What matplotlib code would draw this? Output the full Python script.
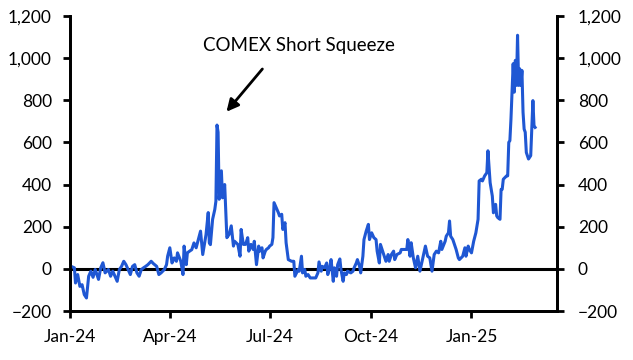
import numpy as np
import pandas as pd
import matplotlib
matplotlib.use('Agg')
import matplotlib.pyplot as plt
import matplotlib.dates as mdates
from matplotlib.ticker import StrMethodFormatter

plt.rcParams['font.family'] = ['Lato', 'DejaVu Sans']

# days after 1 Jan 2024
days = [1, 4, 5, 7, 9, 11, 13, 15, 17, 19, 21, 23, 26, 28, 30, 32, 35, 37, 39, 41,
        43, 45, 47, 49, 51, 53, 55, 57, 59, 61, 63, 65, 67, 69, 71, 74, 76, 79, 81, 83,
        86, 88, 89, 91, 93, 95, 97, 98, 101, 103, 104, 106, 107, 109, 111, 113, 115, 117, 119, 121,
        123, 124, 126, 127, 128, 130, 132, 133, 134, 135, 136, 138, 139, 141, 143, 145, 147, 149,
        150, 153, 155, 156, 158, 160, 162, 163, 165, 167, 168, 170, 172, 173, 175, 176, 178, 179,
        181, 182, 184, 185, 186, 188, 190, 191, 193, 194, 196, 197, 199, 202, 204, 205, 208, 209,
        211, 212, 214, 215, 217, 219, 221, 224, 226, 227, 229, 230, 232, 234, 235, 237, 238, 240,
        241, 243, 244, 246, 247, 249, 250, 252, 253, 256, 258, 259, 261, 262, 264, 265, 267, 268,
        270, 272, 273, 275, 277, 279, 280, 282, 283, 285, 286, 288, 290, 291, 293, 295, 296, 298,
        301, 302, 304, 307, 308, 310, 311, 313, 315, 317, 319, 322, 324, 326, 328, 330, 332, 334,
        336, 338, 339, 342, 343, 345, 346, 347, 349, 352, 354, 355, 358, 360, 361, 363, 364, 366,
        368, 370, 372, 373, 375, 376, 378, 380, 381, 382, 383, 385, 386, 388, 389, 390, 392, 393,
        394, 395, 398, 399, 400, 401, 402, 403, 404, 405, 406, 407, 408, 409, 410, 411, 412, 413,
        414, 415, 416, 418, 420, 422, 423, 424]

values = [12, 5, -67, -27, -83, -75, -122, -138, -35, -11, -40, -3, -50, 5, 29, -19, -3, -35, -11, -35,
          -59, -3, 12, 36, 20, -3, -27, 12, 20, -19, -35, -3, 5, 12, 20, 36, 25, 12, -27, -19,
          -3, 20, 60, 100, 28, 52, 36, 76, 36, -27, 108, 20, 76, 84, 91, 123, 100, 139, 179, 68,
          131, 163, 267, 123, 115, 235, 282, 321, 682, 648, 330, 465, 337, 400, 148, 163, 204, 108,
          131, 116, 60, 187, 116, 116, 148, 84, 116, 92, 131, 20, 108, 84, 100, 52, 84, 92,
          100, 108, 116, 148, 314, 290, 266, 251, 259, 187, 219, 124, 44, 36, 36, -35, -3, -11,
          60, -19, -3, -35, -27, -43, -43, -43, -19, 33, -11, 12, 5, 28, -27, 12, 44, -59,
          5, -35, 20, 47, -3, -59, -19, -27, -11, -19, -11, 5, 28, 44, 12, -19, 60, 139,
          179, 211, 139, 171, 148, 139, 84, 28, 116, 84, 68, 36, 68, 36, 68, 84, 44, 68,
          76, 92, 92, 92, 139, 60, 124, 52, 5, 60, -11, 60, 108, 60, 52, -11, 68, 84,
          76, 131, 92, 131, 155, 171, 227, 155, 139, 92, 52, 44, 60, 100, 60, 108, 92, 76,
          131, 171, 235, 417, 425, 417, 441, 456, 560, 488, 409, 345, 266, 306, 251, 243, 235, 377,
          377, 425, 441, 441, 600, 608, 711, 838, 973, 838, 989, 870, 1108, 870, 949, 870, 941, 743,
          663, 648, 552, 521, 537, 798, 679, 671]

dates = pd.Timestamp('2024-01-01') + pd.to_timedelta(days, unit='D')

tick_dates = pd.to_datetime(['2024-01-01', '2024-04-01', '2024-07-01', '2024-10-01', '2025-01-01'])
tick_labels = ['Jan-24', 'Apr-24', 'Jul-24', 'Oct-24', 'Jan-25']
y_ticks = [-200, 0, 200, 400, 600, 800, 1000, 1200]

fig = plt.figure(figsize=(6.33, 3.6), dpi=100)
ax = fig.add_axes([0.1106, 0.136, 0.7694, 0.820])

ax.plot(dates, values, color='#1F57D3', lw=2.2, zorder=3)
ax.axhline(0, color='black', lw=2.2, zorder=2)

ax.set_xlim(pd.Timestamp('2024-01-01'), pd.Timestamp('2025-03-20'))
ax.set_ylim(-200, 1200)
ax.set_xticks(tick_dates)
ax.set_xticklabels(tick_labels)
ax.set_yticks(y_ticks)
ax.yaxis.set_major_formatter(StrMethodFormatter('{x:,.0f}'))

ax2 = ax.twinx()
ax2.set_ylim(-200, 1200)
ax2.set_yticks(y_ticks)
ax2.yaxis.set_major_formatter(StrMethodFormatter('{x:,.0f}'))

for a in (ax, ax2):
    a.spines['top'].set_visible(False)
    for s in ('left', 'right', 'bottom'):
        a.spines[s].set_linewidth(2)
        a.spines[s].set_color('black')
ax.tick_params(axis='y', direction='out', length=5, width=2, pad=8, labelsize=12.5)
ax.tick_params(axis='x', direction='out', length=5, width=2, pad=8, labelsize=12.5)
ax2.tick_params(axis='y', direction='out', length=5, width=2, pad=10, labelsize=12.5)

ax.annotate('', xy=(pd.Timestamp('2024-05-21'), 735), xytext=(pd.Timestamp('2024-06-26'), 958),
            arrowprops=dict(arrowstyle='-|>', color='black', lw=2, mutation_scale=18))
ax.text(pd.Timestamp('2024-07-28'), 1060, 'COMEX Short Squeeze', ha='center', va='center', fontsize=13.5)

fig.savefig('out.png', dpi=100)
